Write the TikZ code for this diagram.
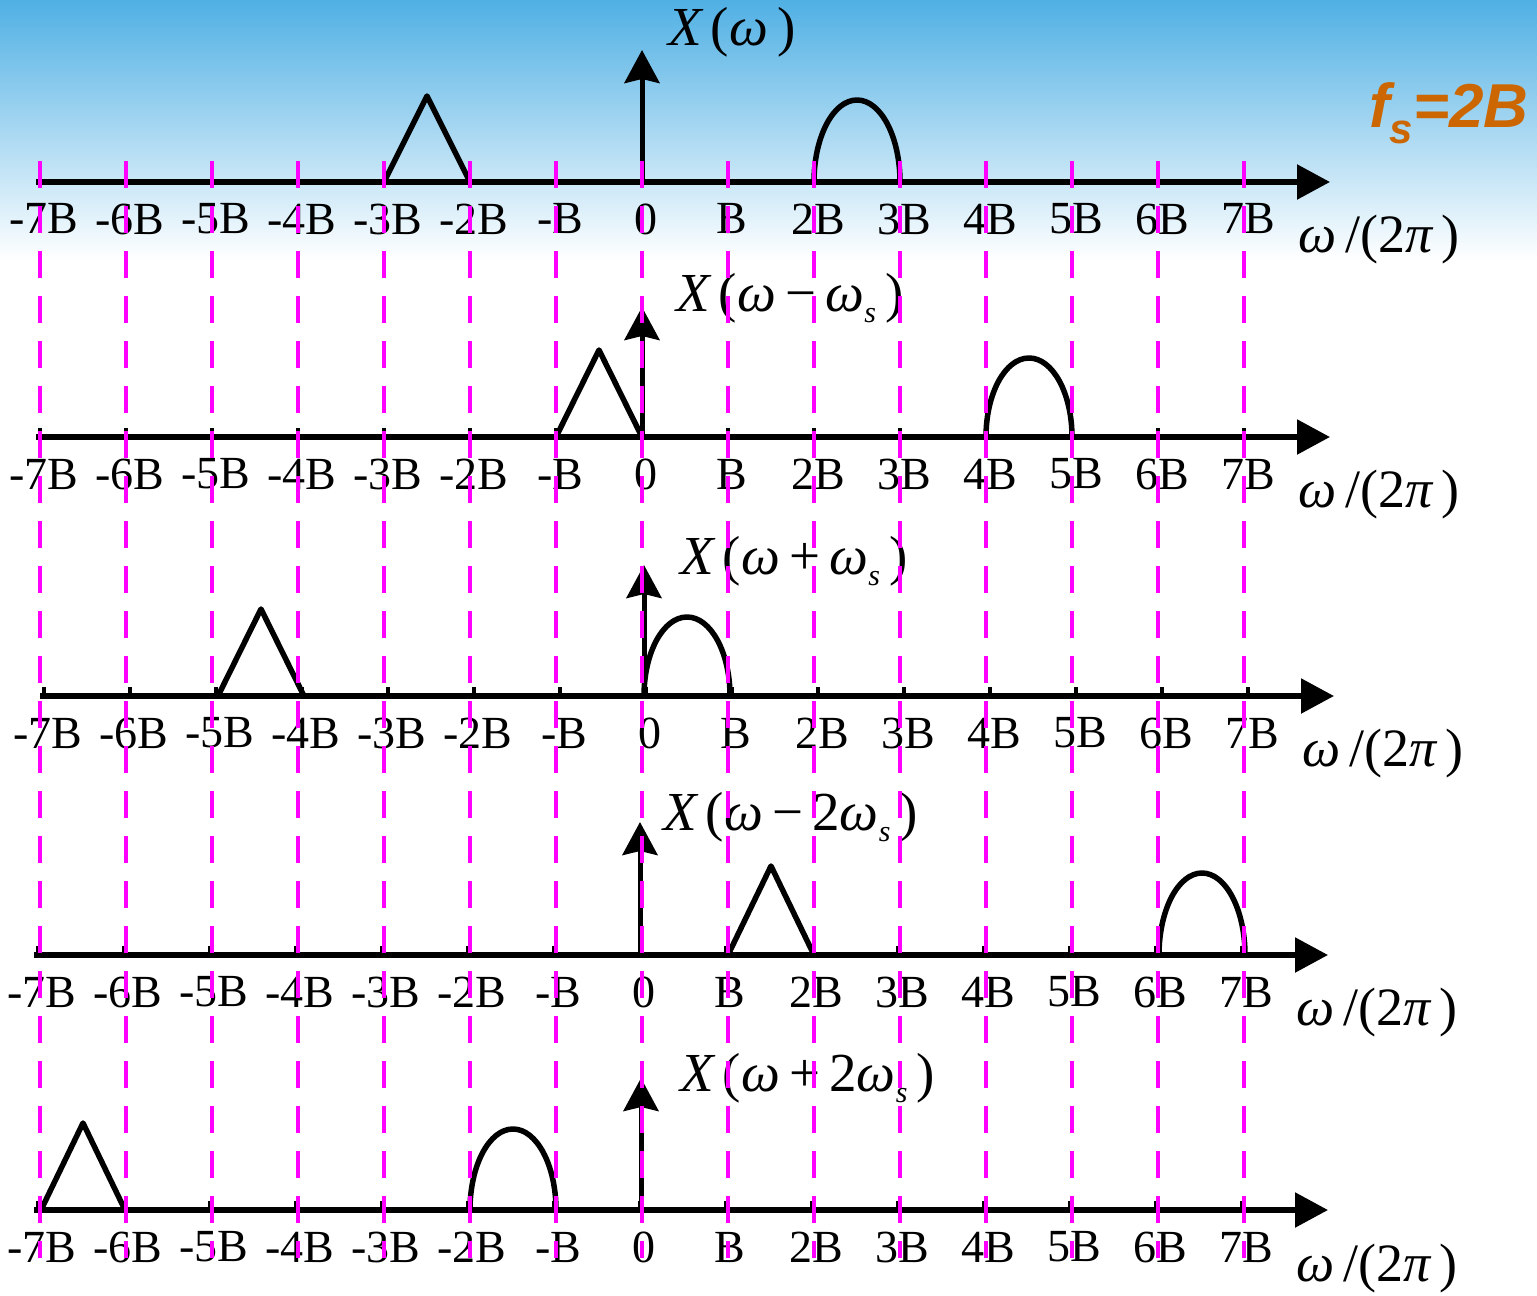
\documentclass[tikz,border=0pt]{standalone}
\usepackage{fontspec}
\setmainfont{Liberation Serif}
\newfontfamily\fsfont{Liberation Sans}
\usepackage{tikz}
\usetikzlibrary{arrows.meta,calc,positioning}
\definecolor{skytop}{RGB}{80,176,228}
\definecolor{skymid}{RGB}{176,214,240}
\definecolor{gridmag}{RGB}{255,0,255}
\definecolor{fsorange}{RGB}{204,102,0}
\def\Wzero{642}
\def\WB{86}
\tikzset{
  axisln/.style={line width=5.5pt, -{Triangle[length=33pt,width=34pt]}},
  deltaln/.style={line width=5pt, -{Stealth[length=33pt,width=35pt,inset=4pt]}},
  specln/.style={line width=5.5pt, line join=round},
  tickln/.style={line width=4.5pt},
  gridln/.style={draw=gridmag, line width=3.5pt, dash pattern=on 27pt off 18pt},
  ticklbl/.style={font=\fontsize{46}{50}\selectfont, inner sep=0pt},
  funclbl/.style={anchor=west, font=\fontsize{55}{60}\selectfont, inner sep=0pt},
  unitlbl/.style={anchor=west, font=\fontsize{54}{60}\selectfont, inner sep=0pt},
}
% subscript s of the spectrum labels
\newcommand\subs{\raisebox{-11pt}{\fontsize{30}{32}\selectfont\itshape s}}
% one frequency axis: #1 name, #2 axis y, #3 x shift
\newcommand\freqaxis[3]{%
  \draw[axisln] (36+#3,#2) -- (1330+#3,#2);
  \foreach \t [count=\n] in {-7B,-6B,-5B,-4B,-3B,-2B,-B,0,B,2B,3B,4B,5B,6B,7B} {
    \pgfmathsetmacro\xx{\Wzero+(\n-8)*\WB+#3}
    \draw[tickln] (\xx,#2) -- ++(0,-9);
    \node[ticklbl] (#1t\n) at (\xx+4,#2+37) {\t};
  }
  \node[unitlbl] (#1u) at (1298+#3,#2+58) {{\itshape ω}\,/(2{\itshape π}\,)};
}

\begin{document}
\begin{tikzpicture}[x=1pt,y=-1pt]
  \useasboundingbox (0,0) rectangle (1537,1296);
  \fill[white] (0,0) rectangle (1537,1296);
  \shade[top color=skytop, middle color=skymid, bottom color=white] (0,0) rectangle (1537,260);

  \node[anchor=base east, text=fsorange, font=\fsfont\fontsize{62}{70}\selectfont\bfseries\itshape]
    (fs) at (1532,127) {f\raisebox{-16pt}{\fontsize{42}{44}\selectfont s}=2B};

  % X(w)
  \freqaxis{a}{182}{0}
  \draw[specln] (384,182) -- (427,96) -- (470,182);
  \draw[specln] (814,182) arc[start angle=180, end angle=360, x radius=43, y radius=82];
  \draw[deltaln] (642,182) -- (642,50);
  \node[funclbl] (aX) at (668,32) {{\itshape X}\,({\itshape ω}\,)};

  % X(w-ws)
  \freqaxis{b}{437}{0}
  \draw[specln] (556,437) -- (599,350) -- (642,437);
  \draw[specln] (986,437) arc[start angle=180, end angle=360, x radius=43, y radius=79];
  \draw[deltaln] (642,437) -- (642,307);
  \node[funclbl] (bX) at (676,298) {{\itshape X}\,({\itshape ω}\,−\,{\itshape ω}\subs\,)};

  % X(w+ws)
  \freqaxis{c}{696}{4}
  \draw[specln] (218,696) -- (261,609) -- (304,696);
  \draw[specln] (644,696) arc[start angle=180, end angle=360, x radius=43, y radius=79];
  \draw[deltaln] (644,696) -- (644,565);
  \node[funclbl] (cX) at (680,561) {{\itshape X}\,({\itshape ω}\,+\,{\itshape ω}\subs\,)};

  % X(w-2ws)
  \freqaxis{d}{955}{-2}
  \draw[specln] (728,955) -- (771,866) -- (814,955);
  \draw[specln] (1159,955) arc[start angle=180, end angle=360, x radius=43, y radius=82];
  \draw[deltaln] (640,955) -- (640,822);
  \node[funclbl] (dX) at (663,817) {{\itshape X}\,({\itshape ω}\,−\,2{\itshape ω}\subs\,)};

  % X(w+2ws)
  \freqaxis{e}{1210}{-2}
  \draw[specln] (41,1210) -- (83,1123) -- (125,1210);
  \draw[specln] (470,1210) arc[start angle=180, end angle=360, x radius=43, y radius=81];
  \draw[deltaln] (641,1210) -- (641,1078);
  \node[funclbl] (eX) at (680,1078) {{\itshape X}\,({\itshape ω}\,+\,2{\itshape ω}\subs\,)};

  % sampling grid
  \foreach \k in {-7,...,7}
    \draw[gridln] (\Wzero+\k*\WB,161) -- (\Wzero+\k*\WB,1258);
\end{tikzpicture}
\end{document}
